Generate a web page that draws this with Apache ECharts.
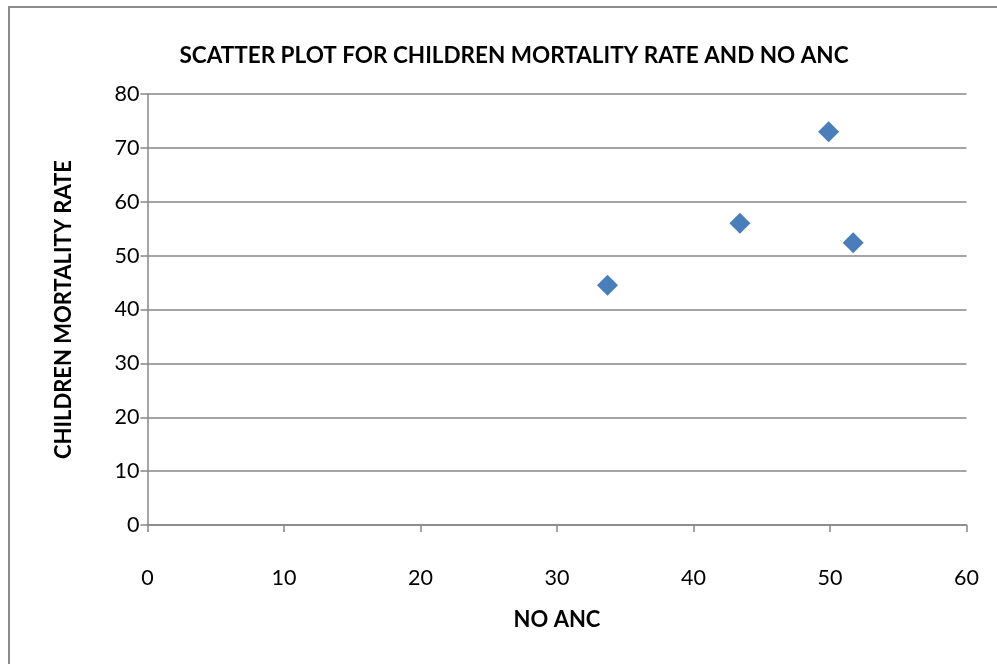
<!DOCTYPE html>
<html>
<head>
<meta charset="utf-8">
<script src="https://cdn.jsdelivr.net/npm/echarts@6/dist/echarts.min.js"></script>
<style>
html,body{margin:0;padding:0;background:#fff;}
#frame{position:absolute;left:8px;top:6px;width:1000px;height:700px;border-left:2px solid #8c8c8c;border-top:2px solid #8c8c8c;box-sizing:border-box;}
#chart{position:absolute;left:0;top:0;width:997px;height:664px;}
</style>
</head>
<body>
<div id="frame"></div>
<div id="chart"></div>
<script>
const titleText = "SCATTER PLOT FOR CHILDREN MORTALITY RATE AND NO ANC";
const xAxisName = "NO ANC";
const yAxisName = "CHILDREN MORTALITY RATE";
const noAnc = [33.7, 43.4, 49.9, 51.7];
const mortalityRate = [44.5, 56.0, 73.0, 52.4];
const xTicks = {min: 0, max: 60, interval: 10};
const yTicks = {min: 0, max: 80, interval: 10};

const points = noAnc.map((x, i) => [x, mortalityRate[i]]);
const font = "Lato, 'Open Sans', sans-serif";
const chart = echarts.init(document.getElementById('chart'));
chart.setOption({
  backgroundColor: 'transparent',
  animation: false,
  title: {
    text: titleText, left: 509, top: 39, textAlign: 'center',
    textStyle: {fontFamily: font, fontWeight: 'bold', fontSize: 22.5, color: '#000'}
  },
  grid: {left: 147.5, right: 30.5, top: 94, bottom: 139},
  xAxis: {
    type: 'value', min: xTicks.min, max: xTicks.max, interval: xTicks.interval,
    name: xAxisName, nameLocation: 'middle', nameGap: 84,
    nameTextStyle: {fontFamily: font, fontWeight: 'bold', fontSize: 22, color: '#000'},
    axisLine: {show: true, lineStyle: {color: '#868686', width: 1.5}},
    axisTick: {show: true, length: 7, lineStyle: {color: '#868686', width: 1.5}},
    axisLabel: {fontFamily: font, fontSize: 21.5, color: '#000', margin: 42},
    splitLine: {show: false}
  },
  yAxis: {
    type: 'value', min: yTicks.min, max: yTicks.max, interval: yTicks.interval,
    name: yAxisName, nameLocation: 'middle', nameGap: 73, nameRotate: 90,
    nameTextStyle: {fontFamily: font, fontWeight: 'bold', fontSize: 22, color: '#000'},
    axisLine: {show: true, lineStyle: {color: '#868686', width: 1.5}},
    axisTick: {show: true, length: 7, lineStyle: {color: '#868686', width: 1.5}},
    axisLabel: {fontFamily: font, fontSize: 21.5, color: '#000', margin: 8},
    splitLine: {show: true, lineStyle: {color: '#868686', width: 1.5}}
  },
  series: [{
    type: 'scatter', data: points, symbol: 'diamond', symbolSize: [21, 21],
    itemStyle: {color: '#4a7ebb', opacity: 1}
  }]
});
</script>
</body>
</html>
